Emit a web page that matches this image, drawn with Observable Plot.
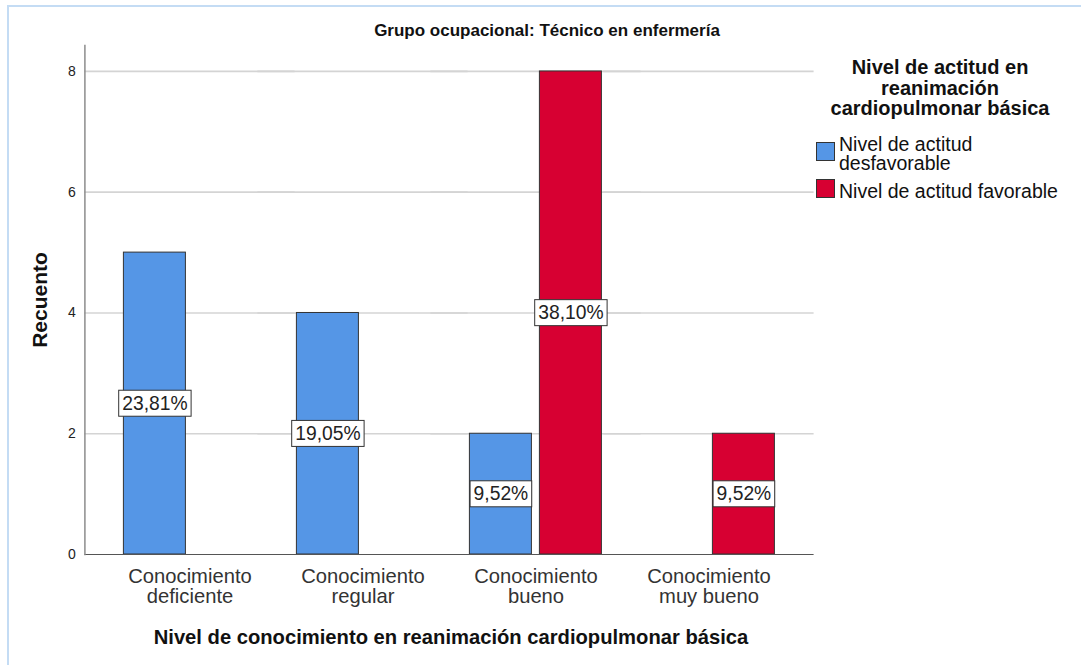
<!DOCTYPE html>
<html>
<head>
<meta charset="utf-8">
<script src="https://cdn.jsdelivr.net/npm/d3@7"></script>
<script src="https://cdn.jsdelivr.net/npm/@observablehq/plot@0.6"></script>
<style>
  html, body { margin: 0; padding: 0; background: #fff; }
  #wrap { position: relative; width: 1081px; height: 665px; overflow: hidden; font-family: "Liberation Sans", Arial, sans-serif; color: #111; }
  #border { position: absolute; left: 7px; top: 5px; width: 1200px; height: 800px; border: 2px solid #c4dcf4; box-sizing: border-box; }
  #chart { position: absolute; left: 0; top: 0; }
  .ov { position: absolute; white-space: nowrap; }
  #title { left: 347px; width: 400px; top: 21px; text-align: center; font-weight: bold; font-size: 17px; line-height: 20px; }
  #xtitle { left: 101px; width: 700px; top: 625px; text-align: center; font-weight: bold; font-size: 20.2px; line-height: 24px; }
  #ytitle { left: 40px; top: 300px; font-weight: bold; font-size: 21px; line-height: 24px; transform: translate(-50%, -50%) rotate(-90deg); }
  #legtitle { left: 800px; width: 280px; top: 57px; text-align: center; font-weight: bold; font-size: 20px; line-height: 20.5px; }
  .sw { position: absolute; width: 19px; height: 19px; box-sizing: border-box; border: 1px solid #333; }
  .lt { position: absolute; left: 839px; font-size: 19.5px; line-height: 19.5px; white-space: nowrap; }
</style>
</head>
<body>
<div id="wrap">
  <div id="border"></div>
  <div id="chart"></div>
</div>
<script>
// ---- data ----
const categorias = ["Conocimiento deficiente", "Conocimiento regular", "Conocimiento bueno", "Conocimiento muy bueno"];
const etiquetasCategoria = ["Conocimiento\ndeficiente", "Conocimiento\nregular", "Conocimiento\nbueno", "Conocimiento\nmuy bueno"];
const series = ["Nivel de actitud desfavorable", "Nivel de actitud favorable"];
const desfavorable = [5, 4, 2, 0];
const favorable = [0, 0, 8, 2];
const yTicks = [0, 2, 4, 6, 8];
const colores = ["#5596e6", "#d70032"];
const titulo = "Grupo ocupacional: Técnico en enfermería";
const tituloX = "Nivel de conocimiento en reanimación cardiopulmonar básica";
const tituloY = "Recuento";
const tituloLeyenda = ["Nivel de actitud en", "reanimación", "cardiopulmonar básica"];
const etiquetasLeyenda = [["Nivel de actitud", "desfavorable"], ["Nivel de actitud favorable"]];

// ---- table ----
const total = d3.sum(desfavorable) + d3.sum(favorable);
const rows = [];
categorias.forEach((c, i) => {
  rows.push({cat: c, serie: series[0], count: desfavorable[i]});
  rows.push({cat: c, serie: series[1], count: favorable[i]});
});
const data = rows.filter(d => d.count > 0);
const pct = d => (d.count / total * 100).toFixed(2).replace(".", ",") + "%";
const labelOf = new Map(categorias.map((c, i) => [c, etiquetasCategoria[i]]));

const ext = -18.6; // axis frame reaches beyond the outer groups
const chart = Plot.plot({
  width: 1081,
  height: 665,
  marginLeft: 101.6,
  marginRight: 284.6,
  marginTop: 45,
  marginBottom: 111,
  style: {fontFamily: "'Liberation Sans', Arial, sans-serif", background: "transparent"},
  fx: {domain: categorias, paddingInner: 0, paddingOuter: 0, label: null},
  x: {domain: series, paddingInner: 0.113, paddingOuter: 0.28, axis: null},
  y: {domain: [0, 8.43], label: null},
  color: {domain: series, range: colores},
  marks: [
    Plot.ruleY(yTicks.filter(t => t > 0), {stroke: "#d4d4d4", strokeWidth: 1.7, insetLeft: ext, insetRight: ext}),
    Plot.barY(data, {fx: "cat", x: "serie", y: "count", fill: "serie", stroke: "#333", strokeWidth: 1}),
    Plot.ruleY([0], {stroke: "#555", strokeWidth: 1, insetLeft: ext, insetRight: ext}),
    Plot.frame({anchor: "left", facet: "super", stroke: "#8c8c8c", strokeWidth: 1.5, insetLeft: ext}),
    Plot.axisY({ticks: yTicks, tickSize: 0, tickPadding: 9 - ext, fontSize: 14, fill: "#222", label: null}),
    Plot.axisFx({anchor: "bottom", tickSize: 0, tickPadding: 14, fontSize: 20.2, lineHeight: 1.0, fill: "#333", label: null, tickFormat: c => labelOf.get(c)}),
    Plot.text(data, {fx: "cat", x: "serie", y: d => d.count / 2, text: pct, fontSize: 19.3, fill: "#222", className: "pct"})
  ]
});
document.getElementById("chart").append(chart);

// boxes behind percentage labels
document.querySelectorAll(".pct text").forEach(t => {
  const b = t.getBBox();
  const r = document.createElementNS("http://www.w3.org/2000/svg", "rect");
  r.setAttribute("x", b.x - 3.5);
  r.setAttribute("y", b.y + b.height / 2 - 13);
  r.setAttribute("width", b.width + 7);
  r.setAttribute("height", 26);
  r.setAttribute("fill", "#fff");
  r.setAttribute("stroke", "#333");
  r.setAttribute("stroke-width", 1);
  if (t.getAttribute("transform")) r.setAttribute("transform", t.getAttribute("transform"));
  t.parentNode.insertBefore(r, t);
});

// overlay texts
const wrap = document.getElementById("wrap");
function addDiv(id, cls, html, style) {
  const d = document.createElement("div");
  if (id) d.id = id;
  d.className = cls;
  d.innerHTML = html;
  if (style) Object.assign(d.style, style);
  wrap.append(d);
  return d;
}
addDiv("title", "ov", titulo);
addDiv("xtitle", "ov", tituloX);
addDiv("ytitle", "ov", tituloY);
addDiv("legtitle", "ov", tituloLeyenda.join("<br>"));
const swTops = [142, 179];
const txTops = [134.7, 181.7];
series.forEach((s, i) => {
  addDiv(null, "sw", "", {left: "816px", top: swTops[i] + "px", background: colores[i]});
  addDiv(null, "lt", etiquetasLeyenda[i].join("<br>"), {top: txTops[i] + "px"});
});
</script>
</body>
</html>
